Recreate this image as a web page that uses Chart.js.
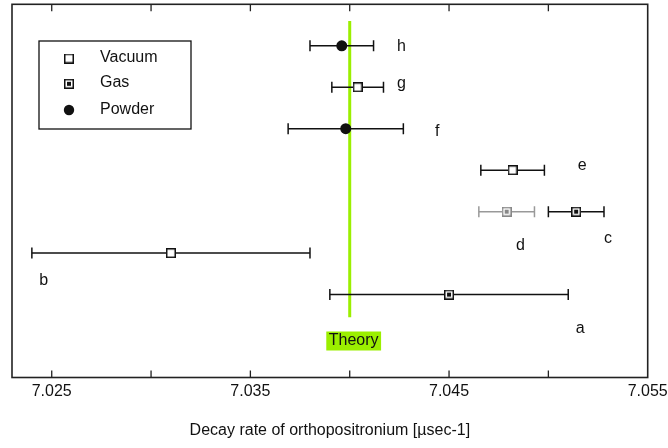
<!DOCTYPE html>
<html>
<head>
<meta charset="utf-8">
<script src="https://cdn.jsdelivr.net/npm/chart.js@4/dist/chart.umd.min.js"></script>
<style>body{margin:0;background:#fff}</style>
</head>
<body>
<canvas id="decayChart" width="668" height="448"></canvas>
<script>
// measurements, bottom row first
const ids = ['a', 'b', 'c', 'd', 'e', 'f', 'g', 'h'];
const rows = [2, 3, 4, 4, 5, 6, 7, 8];
const rates = [7.0450, 7.0310, 7.0514, 7.0479, 7.0482, 7.0398, 7.0404, 7.0396];
const errLow = [7.0390, 7.0240, 7.0500, 7.0465, 7.0466, 7.0369, 7.0391, 7.0380];
const errHigh = [7.0510, 7.0380, 7.0528, 7.0493, 7.0498, 7.0427, 7.0417, 7.0412];
const methods = ['Gas', 'Vacuum', 'Gas', 'Gas', 'Vacuum', 'Powder', 'Vacuum', 'Powder'];
const faded = [false, false, false, true, false, false, false, false];

const theoryRate = 7.0400;
const theorySpan = [1.45, 8.6];

const tickValues = [7.025, 7.030, 7.035, 7.040, 7.045, 7.050, 7.055];
const tickLabels = ['7.025', '', '7.035', '', '7.045', '', '7.055'];
const legendNames = ['Vacuum', 'Gas', 'Powder'];

const FONT = '"Liberation Sans", Arial, sans-serif';
const INK = '#111';
const LIME = '#9bef00';

function squareMark(edge, inner) {
    const c = document.createElement('canvas');
    c.width = 10; c.height = 10;
    const g = c.getContext('2d');
    g.fillStyle = '#fff';
    g.fillRect(0, 0, 10, 10);
    g.strokeStyle = edge;
    g.lineWidth = 1.5;
    g.strokeRect(0.75, 0.75, 8.5, 8.5);
    if (inner) {
        g.fillStyle = inner;
        g.fillRect(3, 3, 4, 4);
    }
    return c;
}
const marks = {
    Vacuum: squareMark(INK, null),
    Gas: squareMark(INK, INK),
    GasFaded: squareMark('#888', '#888')
};

// markers
const markerSets = [];
['Powder', 'Vacuum', 'Gas'].forEach(m => {
    [false, true].forEach(f => {
        const pts = [];
        ids.forEach((id, i) => {
            if (methods[i] === m && faded[i] === f) pts.push({ x: rates[i], y: rows[i] });
        });
        if (!pts.length) return;
        const ds = { type: 'scatter', label: m, data: pts };
        if (m === 'Powder') {
            Object.assign(ds, { pointStyle: 'circle', pointRadius: 5.5, backgroundColor: INK, borderColor: INK, borderWidth: 0 });
        } else {
            Object.assign(ds, { pointStyle: f ? marks.GasFaded : marks[m], pointRadius: 5 });
        }
        markerSets.push(ds);
    });
});

// error bars, one line each
const barSets = ids.map((id, i) => ({
    type: 'line',
    label: 'err ' + id,
    data: [{ x: errLow[i], y: rows[i] }, { x: errHigh[i], y: rows[i] }],
    borderColor: faded[i] ? '#999' : INK,
    borderWidth: 1.5,
    pointStyle: 'line',
    rotation: 90,
    pointRadius: 5.5,
    pointBorderColor: faded[i] ? '#999' : INK,
    pointBorderWidth: 1.5
}));

const theorySet = {
    type: 'line',
    label: 'Theory',
    data: [{ x: theoryRate, y: theorySpan[0] }, { x: theoryRate, y: theorySpan[1] }],
    borderColor: LIME,
    borderWidth: 3,
    pointRadius: 0
};

// letter tags, in data units
const tagPos = [
    [7.0516, 1.18], [7.0246, 2.33], [7.0530, 3.35], [7.0486, 3.17],
    [7.0517, 5.12], [7.0444, 5.92], [7.0426, 7.08], [7.0426, 7.98]
];
const theoryTag = [7.0402, 0.885];

const notes = {
    id: 'notes',
    afterDraw(chart) {
        const { ctx, chartArea: a, scales: { x, y } } = chart;
        ctx.save();
        // frame
        ctx.strokeStyle = '#222';
        ctx.lineWidth = 1.6;
        ctx.strokeRect(a.left, a.top, a.right - a.left, a.bottom - a.top);
        // inward tick marks top and bottom
        ctx.lineWidth = 1.3;
        ctx.beginPath();
        x.ticks.forEach(t => {
            const px = x.getPixelForValue(t.value);
            if (px <= a.left + 1 || px >= a.right - 1) return;
            ctx.moveTo(px, a.bottom); ctx.lineTo(px, a.bottom - 7);
            ctx.moveTo(px, a.top); ctx.lineTo(px, a.top + 7);
        });
        ctx.stroke();

        // letters
        ctx.font = '16px ' + FONT;
        ctx.fillStyle = INK;
        ctx.textAlign = 'center';
        ctx.textBaseline = 'middle';
        ids.forEach((id, i) => {
            ctx.fillText(id, x.getPixelForValue(tagPos[i][0]), y.getPixelForValue(tagPos[i][1]));
        });

        // theory tag
        const tx = x.getPixelForValue(theoryTag[0]);
        const ty = y.getPixelForValue(theoryTag[1]);
        const tw = ctx.measureText('Theory').width;
        ctx.fillStyle = LIME;
        ctx.fillRect(tx - tw / 2 - 2.5, ty - 9.3, tw + 5, 19);
        ctx.fillStyle = INK;
        ctx.fillText('Theory', tx, ty);

        // legend box
        ctx.strokeStyle = INK;
        ctx.lineWidth = 1.3;
        ctx.strokeRect(39, 41, 152, 88);
        const ly = [57.5, 82.8, 109.5];
        ctx.textAlign = 'left';
        legendNames.forEach((n, i) => {
            if (n === 'Powder') {
                ctx.beginPath();
                ctx.arc(69, ly[i] + 0.5, 5.2, 0, Math.PI * 2);
                ctx.fillStyle = INK;
                ctx.fill();
            } else {
                ctx.drawImage(marks[n], 64, ly[i] - 4);
            }
            ctx.fillStyle = INK;
            ctx.fillText(n, 100, ly[i]);
        });
        ctx.restore();
    }
};

new Chart(document.getElementById('decayChart'), {
    data: { datasets: [...markerSets, ...barSets, theorySet] },
    plugins: [notes],
    options: {
        responsive: false,
        animation: false,
        layout: { autoPadding: false, padding: { left: 12, right: 20.3, top: 4.3, bottom: 0 } },
        plugins: { legend: { display: false }, tooltip: { enabled: false } },
        scales: {
            x: {
                type: 'linear',
                min: 7.023,
                max: 7.055,
                afterBuildTicks: s => { s.ticks = tickValues.map(v => ({ value: v })); },
                afterFit: s => { s.height = 70.5; s.paddingLeft = 0; s.paddingRight = 0; },
                grid: { display: false, drawTicks: false },
                border: { display: false },
                ticks: {
                    autoSkip: false,
                    maxRotation: 0,
                    padding: 4,
                    color: INK,
                    font: { family: FONT, size: 16 },
                    callback: (v, i) => tickLabels[i]
                },
                title: {
                    display: true,
                    text: 'Decay rate of orthopositronium [µsec-1]',
                    color: INK,
                    font: { family: FONT, size: 16 },
                    padding: { top: 0, bottom: 8 }
                }
            },
            y: {
                type: 'linear',
                min: 0,
                max: 9,
                display: true,
                grid: { display: false, drawTicks: false },
                border: { display: false },
                ticks: { display: false },
                afterFit: s => { s.width = 0; s.paddingTop = 0; s.paddingBottom = 0; }
            }
        }
    }
});
</script>
</body>
</html>
